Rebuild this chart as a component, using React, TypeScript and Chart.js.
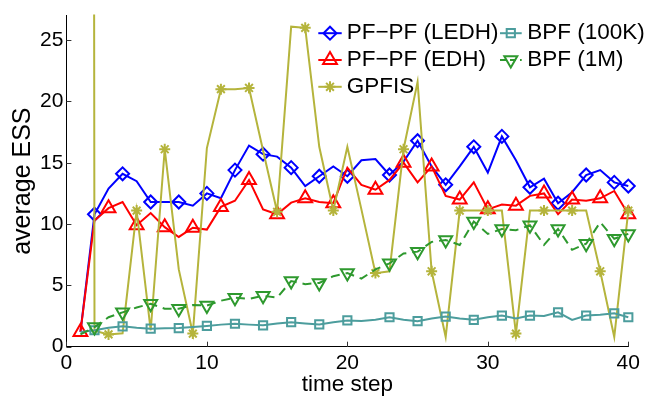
import React, { useEffect, useRef } from 'react';
import { Chart, registerables } from 'chart.js';

Chart.register(...registerables);

const timeSteps = [1, 2, 3, 4, 5, 6, 7, 8, 9, 10, 11, 12, 13, 14, 15, 16, 17, 18, 19, 20, 21, 22, 23, 24, 25, 26, 27, 28, 29, 30, 31, 32, 33, 34, 35, 36, 37, 38, 39, 40];

const pfpfLedh = [1.2, 10.8, 12.9, 14.1, 13.5, 11.8, 11.8, 11.8, 11.5, 12.5, 12.1, 14.4, 16.4, 15.7, 15.5, 14.6, 13.1, 13.9, 14.7, 13.9, 15.2, 15.3, 14.0, 15.1, 16.8, 14.7, 13.2, 14.7, 16.3, 14.2, 17.15, 15.2, 13.0, 13.7, 11.7, 12.6, 14.0, 14.4, 13.4, 13.1];

const pfpfEdh = [1.2, 10.3, 11.3, 11.8, 9.9, 10.9, 9.75, 8.95, 9.7, 9.55, 11.4, 11.9, 13.6, 11.2, 10.8, 11.75, 12.1, 11.8, 11.7, 14.6, 13.2, 12.8, 13.6, 15.0, 13.4, 14.7, 12.3, 12.0, 13.4, 11.2, 11.6, 11.5, 12.3, 12.5, 10.8, 12.0, 11.9, 12.1, 12.7, 10.8];

const gpfis = [1000, 1.3, 1.0, 1.1, 11.1, 1.34, 16.1, 6.3, 1.07, 16.2, 21.0, 21.0, 21.1, 16.0, 11.0, 26.1, 26.0, 16.3, 11.1, 16.3, 11.2, 6.0, 6.15, 16.1, 21.6, 6.15, 0.8, 11.1, 11.1, 11.1, 11.1, 1.07, 11.1, 11.1, 11.1, 11.1, 11.1, 6.15, 0.8, 11.1];

const bpf100k = [1.2, 1.34, 1.55, 1.66, 1.55, 1.47, 1.5, 1.52, 1.6, 1.69, 1.8, 1.87, 1.8, 1.74, 1.9, 2.0, 1.9, 1.82, 2.0, 2.14, 2.1, 2.2, 2.4, 2.2, 2.08, 2.3, 2.46, 2.3, 2.19, 2.4, 2.54, 2.3, 2.54, 2.5, 2.8, 2.19, 2.54, 2.6, 2.72, 2.4];

const bpf1m = [1.0, 1.6, 2.4, 2.8, 3.2, 3.5, 3.1, 3.1, 3.4, 3.35, 3.75, 4.0, 3.9, 4.15, 4.0, 5.35, 5.1, 5.2, 5.75, 6.0, 5.55, 6.3, 6.8, 7.6, 7.75, 8.55, 8.7, 8.3, 10.2, 9.2, 9.6, 9.5, 9.9, 8.3, 9.6, 7.9, 8.4, 10.15, 8.8, 9.2];

const xTickValues = [0, 10, 20, 30, 40];
const yTickValues = [0, 5, 10, 15, 20, 25];

const seriesLabels = ['PF\u2212PF (LEDH)', 'PF\u2212PF (EDH)', 'GPFIS', 'BPF (100K)', 'BPF (1M)'];

// marker placement (style only): which time steps carry a marker
const markersEvenFirst = [2, 4, 6, 8, 10, 12, 14, 16, 18, 20, 23, 25, 27, 29, 31, 33, 35, 37, 39, 40];
const markersOddFirst = [1, 3, 5, 7, 9, 11, 13, 15, 17, 19, 22, 24, 26, 28, 30, 32, 34, 36, 38, 40];

const FONT = "'Liberation Sans', Arial, Helvetica, sans-serif";

const COLORS = {
  blue: '#0000ff',
  red: '#ff0000',
  olive: '#b5b43c',
  teal: '#4c9d9d',
  green: '#2e992e',
};

type MarkerStyle = 'rectRot' | 'triangle' | 'star' | 'rect';

function drawMarker(ctx: CanvasRenderingContext2D, style: MarkerStyle, x: number, y: number, r: number, rotationDeg: number) {
  ctx.beginPath();
  if (style === 'rectRot') {
    ctx.moveTo(x - r, y);
    ctx.lineTo(x, y + r);
    ctx.lineTo(x + r, y);
    ctx.lineTo(x, y - r);
    ctx.closePath();
  } else if (style === 'triangle') {
    let rad = (rotationDeg * Math.PI) / 180;
    ctx.moveTo(x + Math.sin(rad) * r, y - Math.cos(rad) * r);
    rad += (2 * Math.PI) / 3;
    ctx.lineTo(x + Math.sin(rad) * r, y - Math.cos(rad) * r);
    rad += (2 * Math.PI) / 3;
    ctx.lineTo(x + Math.sin(rad) * r, y - Math.cos(rad) * r);
    ctx.closePath();
  } else if (style === 'rect') {
    const s = r * Math.SQRT1_2;
    ctx.rect(x - s, y - s, 2 * s, 2 * s);
  } else if (style === 'star') {
    for (let k = 0; k < 4; k++) {
      const a = (k * Math.PI) / 4;
      ctx.moveTo(x - Math.cos(a) * r, y - Math.sin(a) * r);
      ctx.lineTo(x + Math.cos(a) * r, y + Math.sin(a) * r);
    }
  }
  ctx.stroke();
}

export default function App() {
  const canvasRef = useRef<HTMLCanvasElement>(null);

  useEffect(() => {
    const canvas = canvasRef.current;
    if (!canvas) return;

    const toPoints = (vals: number[]) => timeSteps.map((t, i) => ({ x: t, y: vals[i] }));
    const radiusAt = (list: number[], r: number) => (c: any) =>
      c.raw && list.includes(c.raw.x) ? r : 0;

    const seriesStyle = [
      { color: COLORS.blue, style: 'rectRot' as MarkerStyle, r: 6.5, rot: 0, dash: [] as number[], marks: markersEvenFirst },
      { color: COLORS.red, style: 'triangle' as MarkerStyle, r: 8, rot: 0, dash: [] as number[], marks: markersOddFirst },
      { color: COLORS.olive, style: 'star' as MarkerStyle, r: 5.5, rot: 0, dash: [] as number[], marks: markersOddFirst },
      { color: COLORS.teal, style: 'rect' as MarkerStyle, r: 5.8, rot: 0, dash: [] as number[], marks: markersEvenFirst },
      { color: COLORS.green, style: 'triangle' as MarkerStyle, r: 7.5, rot: 180, dash: [9, 6], marks: markersEvenFirst },
    ];
    const seriesValues = [pfpfLedh, pfpfEdh, gpfis, bpf100k, bpf1m];

    const datasets = seriesValues.map((vals, i) => {
      const s = seriesStyle[i];
      return {
        label: seriesLabels[i],
        data: toPoints(vals),
        borderColor: s.color,
        borderWidth: 2,
        borderDash: s.dash,
        backgroundColor: 'rgba(0,0,0,0)',
        pointStyle: s.style,
        pointRotation: s.rot,
        pointRadius: radiusAt(s.marks, s.r),
        pointHoverRadius: radiusAt(s.marks, s.r),
        pointBorderColor: s.color,
        pointBackgroundColor: 'rgba(0,0,0,0)',
        pointBorderWidth: 2,
        tension: 0,
        fill: false,
        clip: { left: 20, top: 1, right: 20, bottom: 20 },
        order: 5 - i,
      };
    });

    const legendLayout = [
      { col: 0, row: 0 },
      { col: 0, row: 1 },
      { col: 0, row: 2 },
      { col: 1, row: 0 },
      { col: 1, row: 1 },
    ];
    const legendCols = [
      { x0: 318.3, x1: 341.7, mx: 330, tx: 346.7 },
      { x0: 500, x1: 521.7, mx: 510.8, tx: 527.3 },
    ];
    const legendRows = [33.2, 60, 86.8];

    const overlay = {
      id: 'overlay',
      afterDraw(chart: any) {
        const ctx: CanvasRenderingContext2D = chart.ctx;
        const xs = chart.scales.x;
        const ys = chart.scales.y;
        const area = chart.chartArea;
        ctx.save();
        // inward tick marks
        ctx.strokeStyle = '#333';
        ctx.lineWidth = 1;
        ctx.setLineDash([]);
        ctx.beginPath();
        xTickValues.forEach((v) => {
          const px = Math.round(xs.getPixelForValue(v)) + 0.5;
          ctx.moveTo(px, area.bottom);
          ctx.lineTo(px, area.bottom - 5);
        });
        yTickValues.forEach((v) => {
          const py = Math.round(ys.getPixelForValue(v)) + 0.5;
          ctx.moveTo(area.left, py);
          ctx.lineTo(area.left + 5, py);
        });
        ctx.stroke();

        // legend
        ctx.font = `22.5px ${FONT}`;
        ctx.textBaseline = 'middle';
        ctx.textAlign = 'left';
        seriesLabels.forEach((label, i) => {
          const s = seriesStyle[i];
          const pos = legendLayout[i];
          const c = legendCols[pos.col];
          const y = legendRows[pos.row];
          ctx.strokeStyle = s.color;
          ctx.lineWidth = 2;
          ctx.setLineDash(s.dash.length ? [6, 4] : []);
          ctx.beginPath();
          ctx.moveTo(c.x0, y);
          ctx.lineTo(c.x1, y);
          ctx.stroke();
          ctx.setLineDash([]);
          drawMarker(ctx, s.style, c.mx, y, s.r, s.rot);
          ctx.fillStyle = '#000';
          ctx.fillText(label, c.tx, y - 0.5);
        });
        ctx.restore();
      },
    };

    const chart = new Chart(canvas, {
      type: 'line',
      data: { datasets: datasets as any },
      options: {
        responsive: false,
        maintainAspectRatio: false,
        animation: false,
        devicePixelRatio: 1,
        layout: { padding: { left: 0, top: 10, right: 33.7, bottom: 0 } },
        plugins: {
          legend: { display: false },
          tooltip: { enabled: false },
        },
        scales: {
          x: {
            type: 'linear',
            min: 0,
            max: 40,
            afterBuildTicks: (s: any) => {
              s.ticks = xTickValues.map((v) => ({ value: v }));
            },
            afterFit: (s: any) => {
              s.height = 49.3;
            },
            ticks: {
              color: '#000',
              font: { size: 21, family: FONT },
              padding: 4,
              maxRotation: 0,
              autoSkip: false,
              includeBounds: false,
            },
            grid: { display: false, drawTicks: false },
            border: { display: true, color: '#000', width: 1 },
            title: {
              display: true,
              text: 'time step',
              color: '#000',
              font: { size: 22.5, family: FONT },
              padding: { top: 0, bottom: -2 },
            },
          },
          y: {
            type: 'linear',
            min: 0,
            max: 27,
            afterBuildTicks: (s: any) => {
              s.ticks = yTickValues.map((v) => ({ value: v }));
            },
            afterFit: (s: any) => {
              s.width = 66.4;
            },
            ticks: {
              color: '#000',
              font: { size: 21, family: FONT },
              padding: 3,
              autoSkip: false,
              includeBounds: false,
            },
            grid: { display: false, drawTicks: false },
            border: { display: true, color: '#000', width: 1 },
            title: {
              display: true,
              text: 'average ESS',
              color: '#000',
              font: { size: 25, family: FONT },
              padding: { top: 8, bottom: 0 },
            },
          },
        },
      },
      plugins: [overlay],
    });

    return () => {
      chart.destroy();
    };
  }, []);

  return (
    <div style={{ position: 'absolute', left: 0, top: 0, width: 662, height: 396, background: '#fff' }}>
      <canvas ref={canvasRef} width={662} height={396} style={{ display: 'block', width: 662, height: 396 }} />
    </div>
  );
}
